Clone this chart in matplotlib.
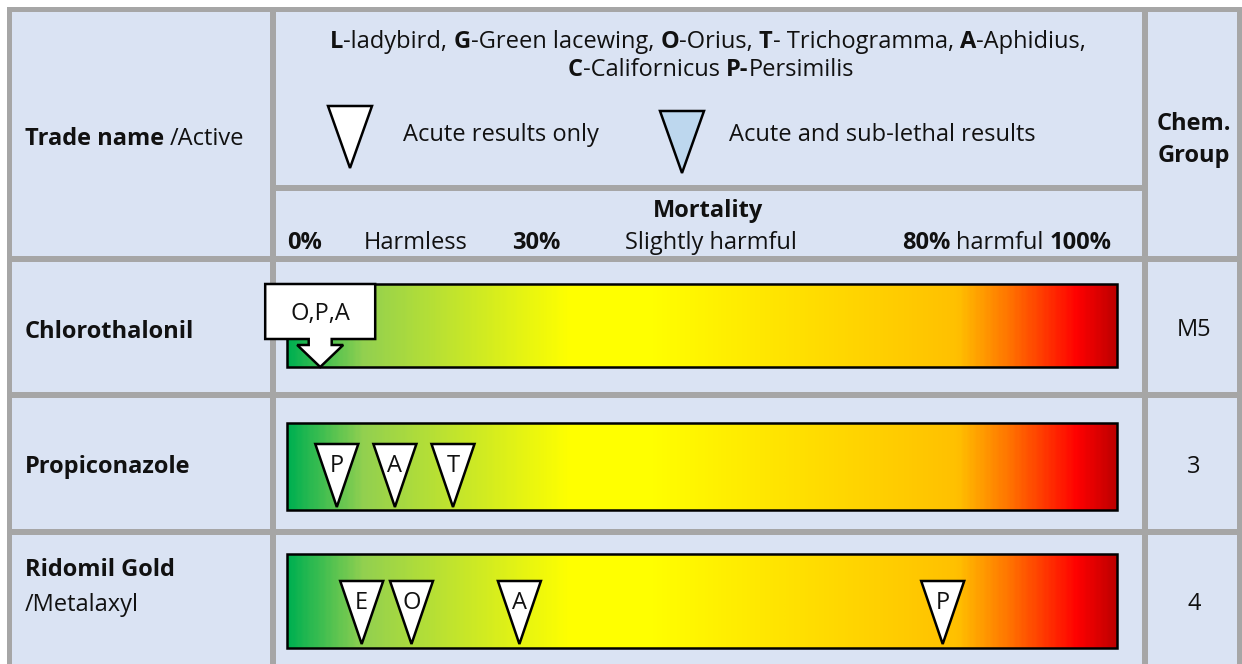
""" Side-effect chart: mortality of beneficials for three fungicides """

import numpy as np
import matplotlib
matplotlib.use("Agg")
import matplotlib.pyplot as plt
from matplotlib.patches import Rectangle, Polygon
from matplotlib.colors import LinearSegmentedColormap

# data
products = ["Chlorothalonil", "Propiconazole", "Ridomil Gold"]
actives = ["", "", "/Metalaxyl"]
chem_groups = ["M5", "3", "4"]

# mortality (%) per beneficial
chloro_labels = ["O,P,A"]
chloro_mort = [4]
propi_labels = ["P", "A", "T"]
propi_mort = [6, 13, 20]
ridomil_labels = ["E", "O", "A", "P"]
ridomil_mort = [9, 15, 28, 79]

scale_labels = [("0%", True), ("Harmless", False), ("30%", True), ("Slightly harmful", False)]

FONT = "Open Sans"
FS = 17
DY = 2  # nudge text down a bit
INK = "#111111"
CELL = "#dae3f3"
GRID = "#a6a6a6"

plt.rcParams["font.family"] = [FONT, "DejaVu Sans"]

fig = plt.figure(figsize=(12.42, 6.64), dpi=100)
ax = fig.add_axes([0, 0, 1, 1])
ax.axis("off")
ax.set_xlim(0, 1242)
ax.set_ylim(664, 0)
R = fig.canvas.get_renderer()


def txt(x, y, s, bold=False, ha="left", **kw):
    return ax.text(x, y + DY, s, size=FS, color=INK, va="center", ha=ha,
                   fontweight="bold" if bold else "normal", zorder=5, **kw)


# cells + grid
ax.add_patch(Rectangle((7, 7), 1235, 660, fc=CELL, ec="none", zorder=0))


def hline(y, x0, x1, w=6):
    ax.add_patch(Rectangle((x0, y - w / 2), x1 - x0, w, fc=GRID, ec="none", zorder=1))


def vline(x, y0, y1, w=6):
    ax.add_patch(Rectangle((x - w / 2, y0), w, y1 - y0, fc=GRID, ec="none", zorder=1))


hline(9.5, 7, 1242, 5)
vline(9.5, 7, 664, 5)
vline(1239, 7, 664, 5)
vline(273, 7, 664)
vline(1145, 7, 664)
hline(188, 273, 1145)
hline(259, 7, 1242)
hline(395, 7, 1242)
hline(532, 7, 1242)


def rich(x, y, parts, ha="left"):
    """draw a line made of bold / regular pieces"""
    probe = ax.text(0, 0, "a a", size=FS)
    probe2 = ax.text(0, 0, "aa", size=FS)
    sp = probe.get_window_extent(R).width - probe2.get_window_extent(R).width
    probe.remove()
    probe2.remove()
    items = []
    total = 0
    for s, b in parts:
        lead = len(s) - len(s.lstrip(" "))
        trail = len(s) - len(s.rstrip(" "))
        t = txt(0, y, s.strip(" "), bold=b)
        w = t.get_window_extent(R).width
        items.append((t, lead * sp, w, trail * sp))
        total += lead * sp + w + trail * sp
    if ha == "center":
        cx = x - total / 2
    elif ha == "right":
        cx = x - total
    else:
        cx = x
    for t, l, w, tr in items:
        cx += l
        t.set_x(cx)
        cx += w + tr


# header
rich(25, 137, [("Trade name", True), (" /Active", False)])
rich(708, 40, [("L", True), ("-ladybird, ", False), ("G", True), ("-Green lacewing, ", False),
               ("O", True), ("-Orius, ", False), ("T", True), ("- Trichogramma, ", False),
               ("A", True), ("-Aphidius,", False)], ha="center")
rich(711, 68, [("C", True), ("-Californicus ", False), ("P-", True), ("Persimilis", False)],
     ha="center")

ax.add_patch(Polygon([(328, 106), (372, 106), (350, 168)], closed=True,
                     fc="white", ec="black", lw=1.8, zorder=4))
txt(403, 133, "Acute results only")
ax.add_patch(Polygon([(660, 111), (704, 111), (682, 173)], closed=True,
                     fc="#bdd7ee", ec="black", lw=1.8, zorder=4))
txt(729, 133, "Acute and sub-lethal results")

txt(708, 209, "Mortality", bold=True, ha="center")
for (s, b), x in zip(scale_labels, [287, 364, 512, 625]):
    txt(x, 241, s, bold=b)
rich(1112, 241, [("80%", True), (" harmful ", False), ("100%", True)], ha="right")

txt(1194, 122, "Chem.", bold=True, ha="center")
txt(1194, 154, "Group", bold=True, ha="center")

# rows
bar_x0, bar_x1 = 287, 1117
bar_y = [(284, 367), (423, 510), (554, 648)]
name_y = [330, 465, 568]
group_y = [328, 465, 602]

cmap = LinearSegmentedColormap.from_list("mort", [
    (0.0, "#00b050"), (0.09, "#92d050"), (0.34, "#ffff00"), (0.44, "#ffff00"),
    (0.57, "#ffe800"), (0.81, "#ffc000"), (0.875, "#ff7000"), (0.955, "#ff0000"),
    (1.0, "#c00000")])
grad = np.linspace(0, 1, 400).reshape(1, -1)

for i, name in enumerate(products):
    y0, y1 = bar_y[i]
    ax.imshow(grad, cmap=cmap, extent=(bar_x0, bar_x1, y1, y0), aspect="auto",
              interpolation="bilinear", zorder=2)
    ax.add_patch(Rectangle((bar_x0, y0), bar_x1 - bar_x0, y1 - y0, fc="none",
                           ec="black", lw=1.8, zorder=3))
    txt(25, name_y[i], name, bold=True)
    if actives[i]:
        txt(25, 603, actives[i])
    txt(1194, group_y[i], chem_groups[i], ha="center")


def xpos(m):
    return bar_x0 + m / 100 * (bar_x1 - bar_x0)


def tri_marker(m, letter, tip_y, w=43, h=63):
    x = xpos(m)
    ax.add_patch(Polygon([(x - w / 2, tip_y - h), (x + w / 2, tip_y - h), (x, tip_y)],
                         closed=True, fc="white", ec="black", lw=1.8, zorder=4))
    txt(x, tip_y - h + 20, letter, ha="center")


for lab, m in zip(propi_labels, propi_mort):
    tri_marker(m, lab, bar_y[1][1] - 3)
for lab, m in zip(ridomil_labels, ridomil_mort):
    tri_marker(m, lab, bar_y[2][1] - 4)

# callout for chlorothalonil
for lab, m in zip(chloro_labels, chloro_mort):
    x = xpos(m)
    top, bot, head, tip = 284, 339, 345, bar_y[0][1]
    pts = [(x - 55, top), (x + 55, top), (x + 55, bot), (x + 11.5, bot), (x + 11.5, head),
           (x + 23, head), (x, tip), (x - 23, head), (x - 11.5, head), (x - 11.5, bot),
           (x - 55, bot)]
    ax.add_patch(Polygon(pts, closed=True, fc="white", ec="black", lw=1.8, zorder=4))
    txt(x, 312, lab, ha="center")

fig.savefig("out.png", dpi=100, facecolor="white")
